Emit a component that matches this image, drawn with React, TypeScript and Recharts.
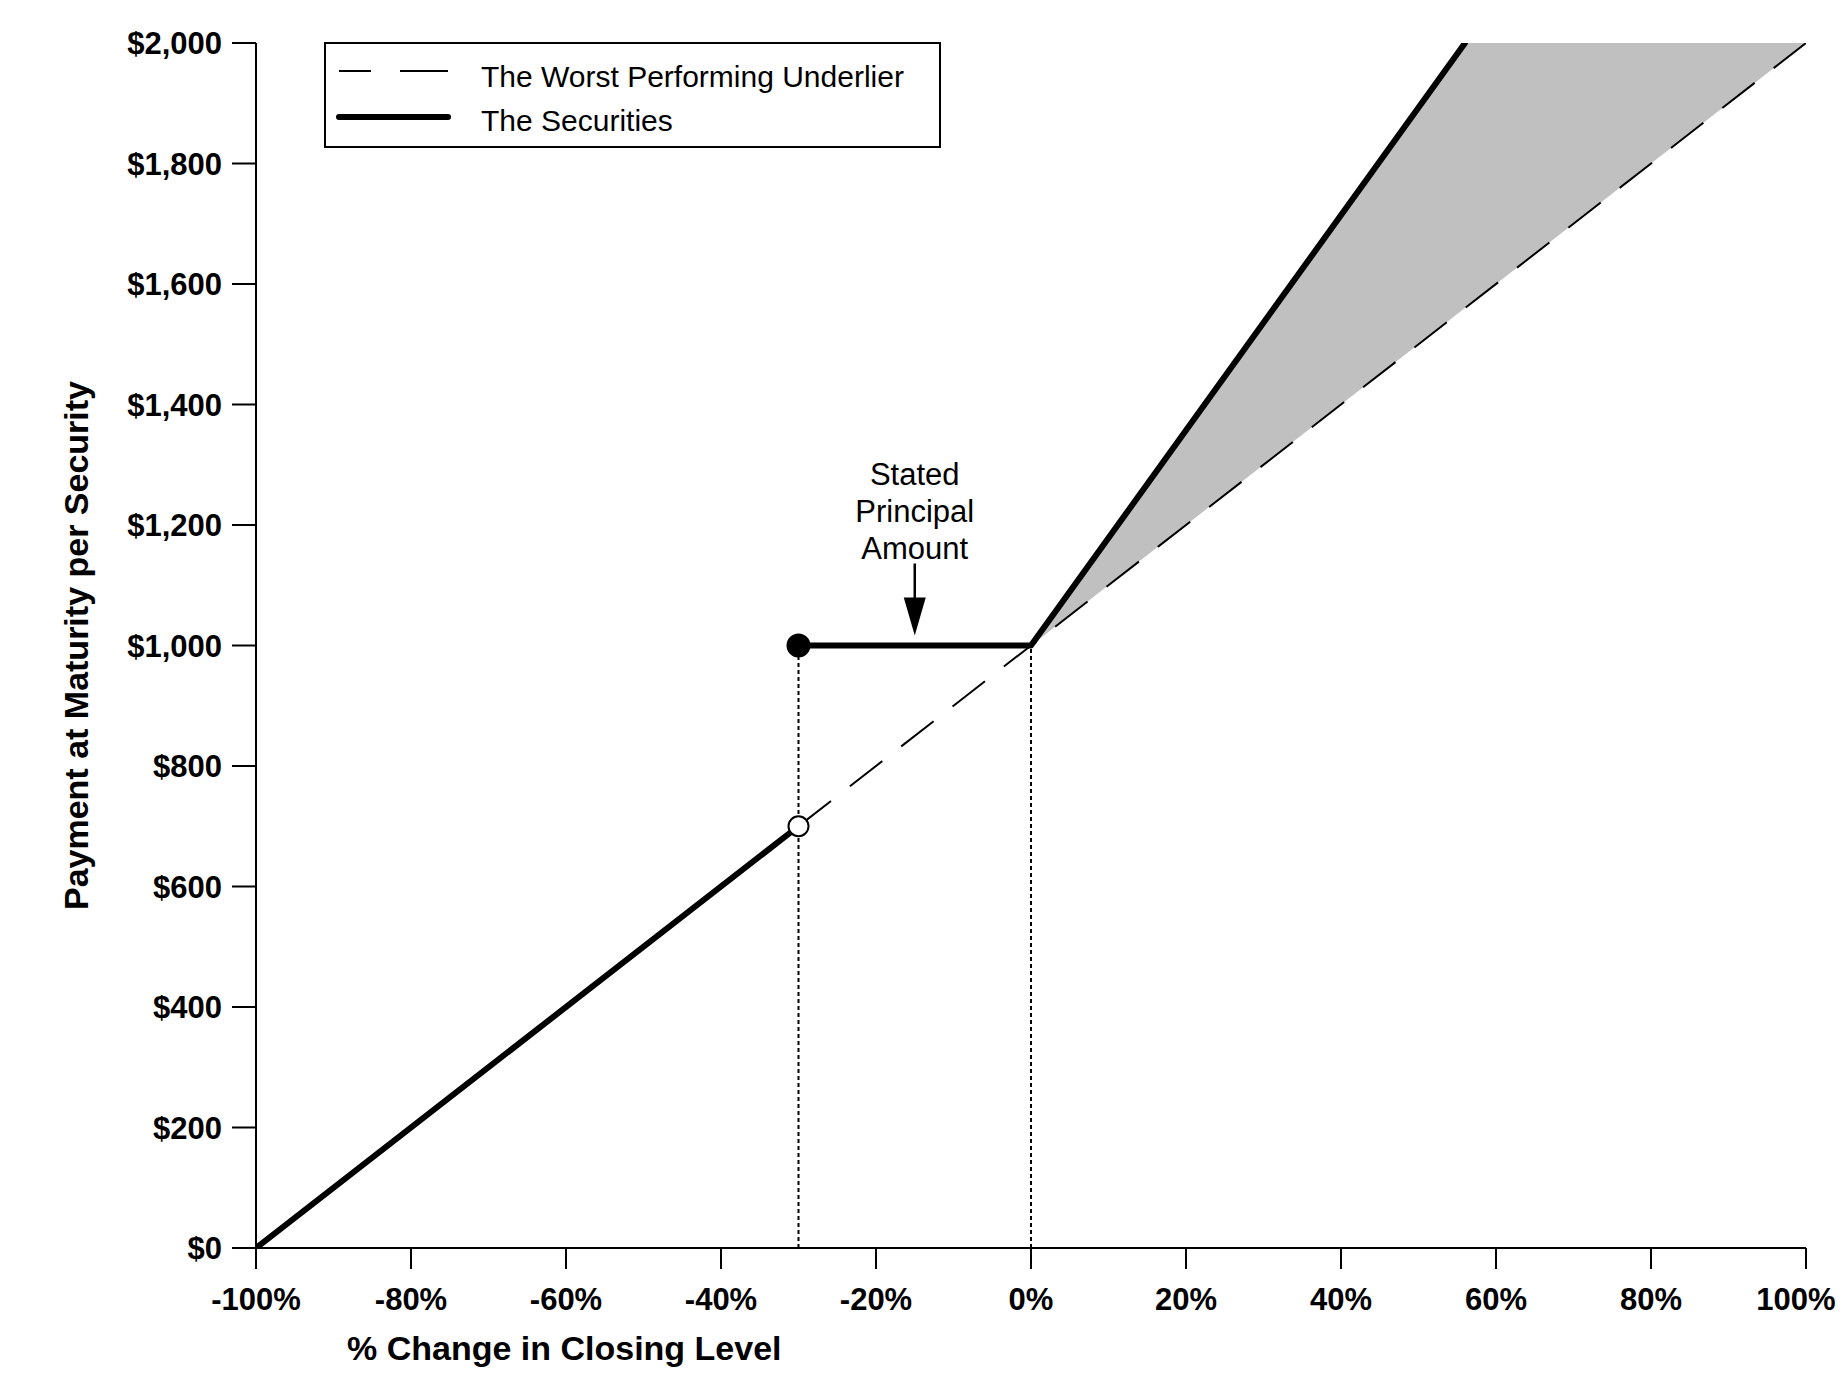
import {
  ComposedChart,
  Line,
  Area,
  XAxis,
  YAxis,
  ReferenceLine,
  ReferenceDot,
  Legend,
} from 'recharts'

const FONT = '"Liberation Sans", Arial, Helvetica, sans-serif'

const xTicks = [-100, -80, -60, -40, -20, 0, 20, 40, 60, 80, 100]
const yTicks = [0, 200, 400, 600, 800, 1000, 1200, 1400, 1600, 1800, 2000]

// worst performing underlier, listed from the top right so the dashes start there
const underlier = [
  { x: 100, y: 2000 },
  { x: -100, y: 0 },
]

// securities payoff: below the barrier, then principal + leveraged upside
const securitiesDown = [
  { x: -100, y: 0 },
  { x: -30, y: 700 },
]
const securitiesUp = [
  { x: -30, y: 1000 },
  { x: 0, y: 1000 },
  { x: 56, y: 2000 },
]

// shaded band between the underlier and the securities (capped at $2,000)
const upsideBand = [
  { x: 0, band: [1000, 1000] },
  { x: 56, band: [1560, 2000] },
  { x: 100, band: [2000, 2000] },
]

const barrierDots = [
  { x: -30, y: 1000, filled: true },
  { x: -30, y: 700, filled: false },
]

// dotted drop lines from the principal level down to the axis
const dropLines = [-30, 0]

const note = { x: -15, y: 1000, lines: ['Stated', 'Principal', 'Amount'] }

const legendItems = [
  { label: 'The Worst Performing Underlier', dash: '32 29 48', width: 2 },
  { label: 'The Securities', dash: undefined, width: 6 },
]

function XTick({ x, y, payload }: any) {
  // last label is pulled in a little so it stays on the page
  const last = payload.value === xTicks[xTicks.length - 1]
  return (
    <text
      x={last ? x - 10 : x}
      y={y}
      dy="0.71em"
      textAnchor="middle"
      fontFamily={FONT}
      fontSize={31}
      fontWeight={700}
      fill="#000"
    >
      {`${payload.value}%`}
    </text>
  )
}

function YTitle({ viewBox }: any) {
  const x = viewBox.x + 88
  const y = viewBox.y + viewBox.height / 2
  return (
    <text
      x={x}
      y={y}
      transform={`rotate(-90 ${x} ${y})`}
      textAnchor="middle"
      fontFamily={FONT}
      fontSize={34}
      fontWeight={700}
      fill="#000"
    >
      Payment at Maturity per Security
    </text>
  )
}

function XTitle({ viewBox }: any) {
  return (
    <text
      x={viewBox.x + 91}
      y={viewBox.y + 112}
      fontFamily={FONT}
      fontSize={34}
      fontWeight={700}
      fill="#000"
    >
      % Change in Closing Level
    </text>
  )
}

function PrincipalNote({ cx, cy }: any) {
  return (
    <g>
      {note.lines.map((t, i) => (
        <text
          key={t}
          x={cx}
          y={cy - 161 + i * 37}
          textAnchor="middle"
          fontFamily={FONT}
          fontSize={31}
          fill="#000"
        >
          {t}
        </text>
      ))}
      <line x1={cx} y1={cy - 82} x2={cx} y2={cy - 46} stroke="#000" strokeWidth={2.5} />
      <path d={`M${cx - 11},${cy - 48} L${cx + 11},${cy - 48} L${cx},${cy - 10} Z`} fill="#000" />
    </g>
  )
}

function LegendBox() {
  return (
    <svg width={618} height={107} style={{ display: 'block' }}>
      <rect x={1} y={1} width={615} height={104} fill="#fff" stroke="#000" strokeWidth={2} />
      {legendItems.map((item, i) => (
        <g key={item.label}>
          <line
            x1={15}
            x2={124}
            y1={29 + i * 46}
            y2={29 + i * 46}
            stroke="#000"
            strokeWidth={item.width}
            strokeDasharray={item.dash}
            strokeLinecap={item.dash ? 'butt' : 'round'}
          />
          <text x={157} y={45 + i * 44} fontFamily={FONT} fontSize={30} fill="#000">
            {item.label}
          </text>
        </g>
      ))}
    </svg>
  )
}

export default function App() {
  return (
    <div style={{ position: 'absolute', left: 0, top: 0, width: 1843, height: 1389, background: '#fff' }}>
      <ComposedChart width={1843} height={1389} margin={{ top: 43, right: 37, bottom: 0, left: 0 }}>
        <XAxis
          type="number"
          dataKey="x"
          domain={[-100, 100]}
          ticks={xTicks}
          interval={0}
          allowDataOverflow
          height={141}
          tickSize={21}
          tickMargin={19}
          axisLine={{ stroke: '#000', strokeWidth: 2 }}
          tickLine={{ stroke: '#000', strokeWidth: 2 }}
          tick={<XTick />}
          label={<XTitle />}
        />
        <YAxis
          type="number"
          domain={[0, 2000]}
          ticks={yTicks}
          interval={0}
          allowDataOverflow
          width={256}
          tickSize={24}
          tickMargin={10}
          axisLine={{ stroke: '#000', strokeWidth: 2 }}
          tickLine={{ stroke: '#000', strokeWidth: 2 }}
          tick={{ fill: '#000', fontSize: 31, fontWeight: 700, fontFamily: FONT }}
          tickFormatter={(v: number) => '$' + v.toLocaleString('en-US')}
          label={<YTitle />}
        />
        <Legend
          layout="vertical"
          align="center"
          verticalAlign="middle"
          wrapperStyle={{ left: 324, top: 42, width: 618, height: 107, margin: 0 }}
          content={() => <LegendBox />}
        />
        <Area
          data={upsideBand}
          dataKey="band"
          type="linear"
          fill="#c0c0c0"
          fillOpacity={1}
          stroke="none"
          isAnimationActive={false}
          activeDot={false}
        />
        {dropLines.map((x) => (
          <ReferenceLine
            key={x}
            segment={[
              { x, y: 0 },
              { x, y: note.y },
            ]}
            stroke="#000"
            strokeWidth={2}
            strokeDasharray="4 3"
          />
        ))}
        <Line
          data={underlier}
          dataKey="y"
          type="linear"
          stroke="#000"
          strokeWidth={2}
          strokeDasharray="41 24"
          dot={false}
          activeDot={false}
          isAnimationActive={false}
        />
        <Line
          data={securitiesDown}
          dataKey="y"
          type="linear"
          stroke="#000"
          strokeWidth={6}
          strokeLinecap="round"
          dot={false}
          activeDot={false}
          isAnimationActive={false}
        />
        <Line
          data={securitiesUp}
          dataKey="y"
          type="linear"
          stroke="#000"
          strokeWidth={6}
          strokeLinecap="round"
          strokeLinejoin="round"
          dot={false}
          activeDot={false}
          isAnimationActive={false}
        />
        {barrierDots.map((d) => (
          <ReferenceDot
            key={d.y}
            x={d.x}
            y={d.y}
            r={d.filled ? 11 : 10}
            fill={d.filled ? '#000' : '#fff'}
            stroke="#000"
            strokeWidth={2}
          />
        ))}
        <ReferenceDot x={note.x} y={note.y} r={0} shape={(p: any) => <PrincipalNote {...p} />} />
      </ComposedChart>
    </div>
  )
}
